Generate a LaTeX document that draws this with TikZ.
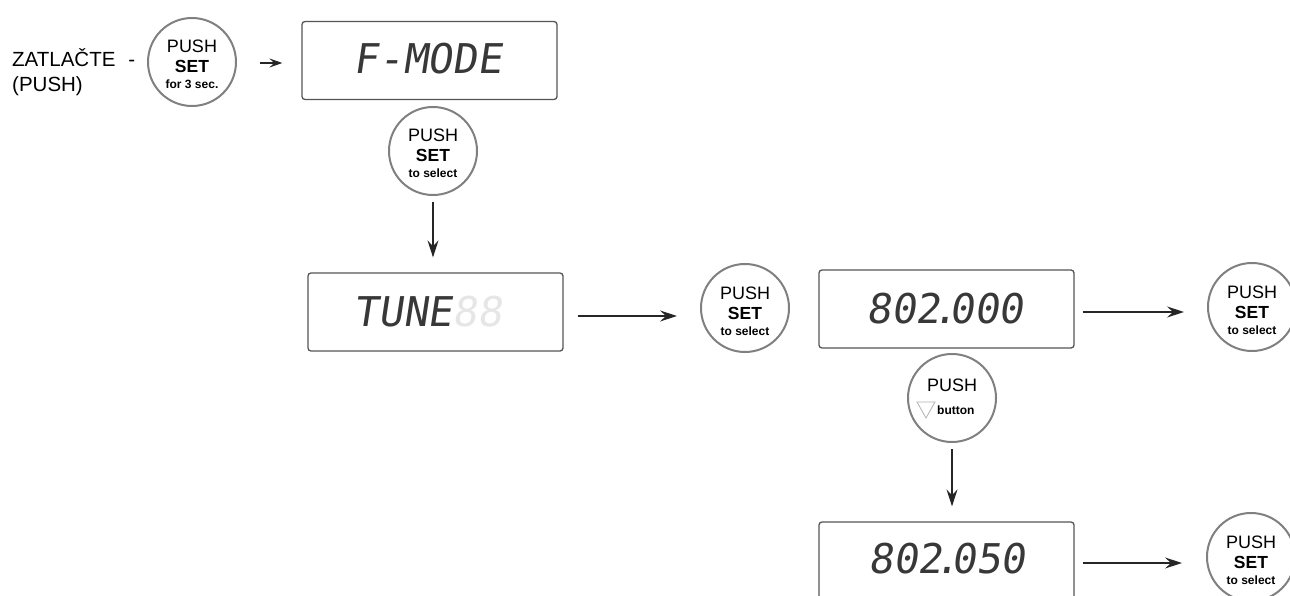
\documentclass[tikz,border=0pt]{standalone}
\usepackage{fontspec}
\setmainfont{Liberation Sans}
\newfontfamily\segfont[FakeSlant=0.15]{DejaVu Sans Mono}
\usetikzlibrary{arrows.meta}
\definecolor{ringgray}{HTML}{808080}
\definecolor{boxgray}{HTML}{555555}
\definecolor{ghost}{HTML}{E6E6E6}
\tikzset{
  btn/.style={circle, draw=ringgray, line width=2pt, minimum size=88pt, inner sep=0pt},
  lcd/.style={draw=boxgray, line width=1.3pt, rounded corners=3pt, minimum width=255pt, minimum height=78pt, inner sep=0pt},
  segtxt/.style={font=\segfont\fontsize{41}{41}\selectfont, text=black!78, inner sep=0pt},
  arr/.style={draw=black!85, line width=1.1pt, -{Stealth[length=17pt,width=11pt,inset=6pt]}},
  bigtxt/.style={font=\fontsize{18}{18}\selectfont, inner sep=0pt, anchor=base},
  bigbold/.style={font=\bfseries\fontsize{17.5}{17.5}\selectfont, inner sep=0pt, anchor=base},
  smallbold/.style={font=\bfseries\fontsize{12}{12}\selectfont, inner sep=0pt, anchor=base},
  side/.style={font=\fontsize{20.5}{24}\selectfont, inner sep=0pt, anchor=base west}
}
\newcommand{\pushsetbtn}[3]{%
  \node[btn] (#1) at #2 {};
  \node[bigtxt] (#1-a) at ([yshift=9pt]#1.center) {PUSH};
  \node[bigbold] (#1-b) at ([yshift=-11pt]#1.center) {SET};
  \node[smallbold] (#1-c) at ([yshift=-27pt]#1.center) {#3};
}
\begin{document}
\begin{tikzpicture}[x=1pt,y=-1pt]
\useasboundingbox[fill=white] (0,0) rectangle (1290,596);

% side text
\node[side] (z1) at (12,67) {ZATLAČTE\hspace{13pt}-};
\node[side] (z2) at (12,92) {(PUSH)};

% buttons
\pushsetbtn{c1}{(192,62)}{for 3 sec.}
\pushsetbtn{c2}{(433,151)}{to select}
\pushsetbtn{c3}{(745,308)}{to select}
\pushsetbtn{c4}{(1252,307)}{to select}
\pushsetbtn{c6}{(1251,557)}{to select}

\node[btn] (c5) at (952,398) {};
\node[bigtxt] (c5-a) at ([yshift=7pt]c5.center) {PUSH};
\node[smallbold, anchor=base west] (c5-b) at ([xshift=-15pt,yshift=-16pt]c5.center) {button};
\draw[draw=black!30, line width=0.8pt] ([xshift=-35pt,yshift=-4pt]c5.center) -- ([xshift=-17pt,yshift=-4pt]c5.center) -- ([xshift=-26pt,yshift=-20pt]c5.center) -- cycle;

% LCD boxes
\node[lcd] (b1) at (429.5,60.5) {};
\node[segtxt] (t1) at (428,59) {F-MODE};

\node[lcd] (b2) at (435.5,312) {};
\node[segtxt] (t2) at (428,312) {TUNE\textcolor{ghost}{88}};

\node[lcd] (b3) at (946.5,309) {};
\node[segtxt] (t3) at (945,309) {802\kern-8pt.\kern-8pt000};

\node[lcd] (b4) at (946.5,561) {};
\node[segtxt] (t4) at (947,559) {802\kern-8pt.\kern-8pt050};

% connector ends
\coordinate (a1s) at ([xshift=23pt,yshift=-1pt]c1.east);
\coordinate (a1x) at ([xshift=-19pt]b1.west);
\coordinate (a2s) at ([yshift=-6pt]c2.south);
\coordinate (a2y) at ([yshift=15pt]b2.north);
\coordinate (a3s) at ([xshift=14pt,yshift=-4pt]b2.east);
\coordinate (a3x) at ([xshift=-23pt]c3.west);
\coordinate (a4s) at ([xshift=8pt,yshift=-3pt]b3.east);
\coordinate (a4x) at ([xshift=-23pt]c4.west);
\coordinate (a5s) at ([yshift=-6pt]c5.south);
\coordinate (a5y) at ([yshift=15pt]b4.north);
\coordinate (a6s) at ([xshift=8pt,yshift=-2pt]b4.east);
\coordinate (a6x) at ([xshift=-24pt]c6.west);

% connectors
\draw[arr, -{Stealth[length=13pt,width=9pt,inset=5pt]}] (a1s) -- (a1x |- a1s);
\draw[arr] (a2s) -- (a2s |- a2y);
\draw[arr] (a3s) -- (a3x |- a3s);
\draw[arr] (a4s) -- (a4x |- a4s);
\draw[arr] (a5s) -- (a5s |- a5y);
\draw[arr] (a6s) -- (a6x |- a6s);
\end{tikzpicture}
\end{document}
